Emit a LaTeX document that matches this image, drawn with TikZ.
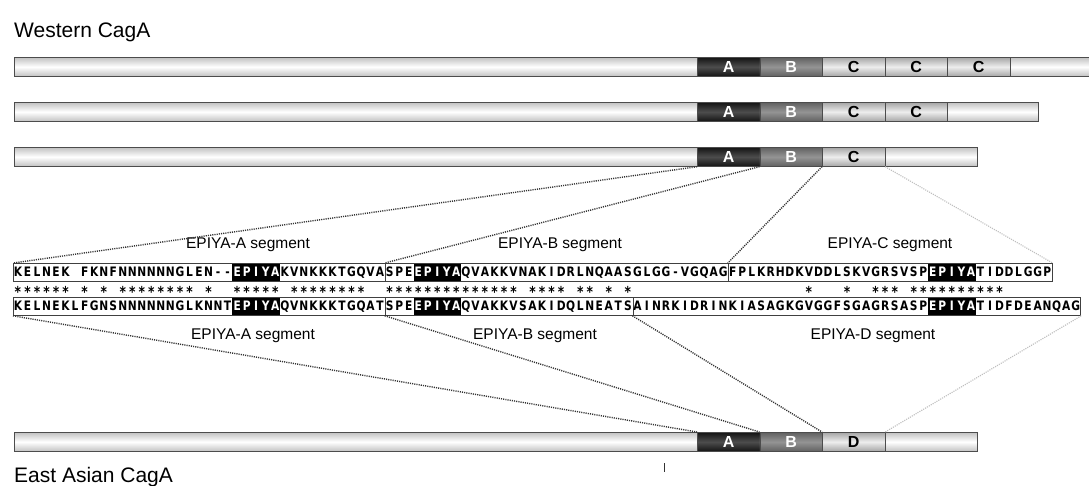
\documentclass[tikz,border=0pt]{standalone}
\usepackage{fontspec}
\setmainfont{Liberation Sans}
\newfontfamily\seqfont{DejaVu Sans}[FakeStretch=0.82]
\newlength\cw
\setlength\cw{9.53pt}
\makeatletter
\def\sq@loop#1{\ifx#1\@nil\else\sq@char{#1}\expandafter\sq@loop\fi}
\def\sq@char#1{\if#1.\hbox to\cw{\hfil}\else\hbox to\cw{\hfil#1\hfil}\fi}
\newcommand\seqs[1]{\sq@loop#1\@nil}
\makeatother
\newcommand\epiya{\textcolor{white}{\seqs{EPIYA}}}
\begin{document}
\begin{tikzpicture}[x=1pt,y=-1pt,
  bar/.style={rectangle, draw=black!70, line width=0.7pt, inner sep=0pt, anchor=north west,
    minimum height=19pt, top color=black!24, bottom color=black!24, middle color=white},
  segA/.style={bar, minimum width=62.5pt, top color=black!92, bottom color=black!92, middle color=black!70,
    text=white, font=\bfseries\fontsize{16}{16}\selectfont},
  segB/.style={bar, minimum width=62.5pt, top color=black!62, bottom color=black!62, middle color=black!42,
    text=white, font=\bfseries\fontsize{16}{16}\selectfont},
  segC/.style={bar, minimum width=62.5pt, top color=black!35, bottom color=black!35, middle color=black!7,
    text=black, font=\bfseries\fontsize{16}{16}\selectfont},
  seqbox/.style={rectangle, draw=black!75, line width=0.8pt, inner sep=0pt, anchor=north west, minimum height=18pt},
  blk/.style={rectangle, fill=black, inner sep=0pt, anchor=north west, minimum height=18pt, minimum width=47.65pt},
  seqtext/.style={inner sep=0pt, anchor=base west, font=\seqfont\bfseries\fontsize{13}{13}\selectfont},
  startext/.style={inner sep=0pt, anchor=base west, font=\seqfont\bfseries\fontsize{15}{15}\selectfont},
  lbl/.style={inner sep=0pt, font=\fontsize{15.5}{16}\selectfont},
  title/.style={inner sep=0pt, anchor=base west, font=\fontsize{21}{21}\selectfont},
  dots/.style={line width=1.4pt, black!80, dash pattern=on 1.1pt off 1.1pt},
  lightdots/.style={line width=1.1pt, black!25, dash pattern=on 1.1pt off 1.1pt}
]
\clip (0,0) rectangle (1089,486);
\fill[white] (0,0) rectangle (1089,486);

% titles
\node[title] (west) at (14,38) {Western CagA};
\node[title] (east) at (14,482) {East Asian CagA};

% bar 1
\node[bar, minimum width=1085pt] (bar1) at (14,57) {};
\node[segA] (a1) at (697,57) {A};
\node[segB] (b1) at (759.5,57) {B};
\node[segC] (c1) at (822,57) {C};
\node[segC] (c1b) at (884.5,57) {C};
\node[segC] (c1c) at (947,57) {C};
% bar 2
\node[bar, minimum width=1024pt] (bar2) at (14,102) {};
\node[segA] (a2) at (697,102) {A};
\node[segB] (b2) at (759.5,102) {B};
\node[segC] (c2) at (822,102) {C};
\node[segC] (c2b) at (884.5,102) {C};
% bar 3
\node[bar, minimum width=963pt] (bar3) at (14,147) {};
\node[segA] (a3) at (697,147) {A};
\node[segB] (b3) at (759.5,147) {B};
\node[segC] (c3) at (822,147) {C};
% East Asian bar
\node[bar, minimum width=963pt] (bar4) at (14,432) {};
\node[segA] (a4) at (697,432) {A};
\node[segB] (b4) at (759.5,432) {B};
\node[segC] (d4) at (822,432) {D};

% black EPIYA boxes
\node[blk] (kA) at (232.2,263) {};
\node[blk] (kB) at (413.3,263) {};
\node[blk] (kC) at (927.9,263) {};
\node[blk] (jA) at (232.2,297) {};
\node[blk] (jB) at (413.3,297) {};
\node[blk] (jD) at (928.0,297) {};

% sequence boxes
\node[seqbox, minimum width=371.7pt] (tA) at (13,263) {};
\node[seqbox, minimum width=343.1pt] (tB) at (384.7,263) {};
\node[seqbox, minimum width=324.0pt] (tC) at (727.8,263) {};
\node[seqbox, minimum width=371.7pt] (uA) at (13,297) {};
\node[seqbox, minimum width=247.8pt] (uB) at (384.7,297) {};
\node[seqbox, minimum width=447.9pt] (uD) at (632.5,297) {};

% sequences
\node[seqtext] (rowTop) at (13,276.8) {\seqs{KELNEK.FKNFNNNNNNGLEN--}\epiya\seqs{KVNKKKTGQVA}%
\seqs{SPE}\epiya\seqs{QVAKKVNAKIDRLNQAASGLGG-VGQAG}%
\seqs{FPLKRHDKVDDLSKVGRSVSP}\epiya\seqs{TIDDLGGP}};
\node[startext] (rowStar) at (13,297.5) {\seqs{******.*.*.********.*..*****.********..}%
\seqs{**************.****.**.*.*..........}%
\seqs{........*...*..***.**********.....}};
\node[seqtext] (rowBot) at (13,310.8) {\seqs{KELNEKLFGNSNNNNNNGLKNNT}\epiya\seqs{QVNKKKTGQAT}%
\seqs{SPE}\epiya\seqs{QVAKKVSAKIDQLNEATS}%
\seqs{AINRKIDRINKIASAGKGVGGFSGAGRSASP}\epiya\seqs{TIDFDEANQAG}};

% segment labels
\node[lbl] (lA) at (248,245) {EPIYA-A segment};
\node[lbl] (lB) at (560,245) {EPIYA-B segment};
\node[lbl] (lC) at (890,245) {EPIYA-C segment};
\node[lbl] (mA) at (253,336) {EPIYA-A segment};
\node[lbl] (mB) at (535,336) {EPIYA-B segment};
\node[lbl] (mD) at (873,336) {EPIYA-D segment};

% connectors
\draw[dots] (a3.south west) -- (tA.north west);
\draw[dots] (b3.south west) -- (tB.north west);
\draw[dots] (c3.south west) -- (tC.north west);
\draw[lightdots] (c3.south east) -- (tC.north east);
\draw[dots] (uA.south west) -- (a4.north west);
\draw[dots] (uB.south west) -- (b4.north west);
\draw[dots] (uD.south west) -- (d4.north west);
\draw[lightdots] (uD.south east) -- (d4.north east);

% small tick
\coordinate (tk1) at (664,463);
\coordinate (tk2) at (664,472);
\draw[line width=0.9pt, black!80] (tk1) -- (tk2);
\end{tikzpicture}
\end{document}
